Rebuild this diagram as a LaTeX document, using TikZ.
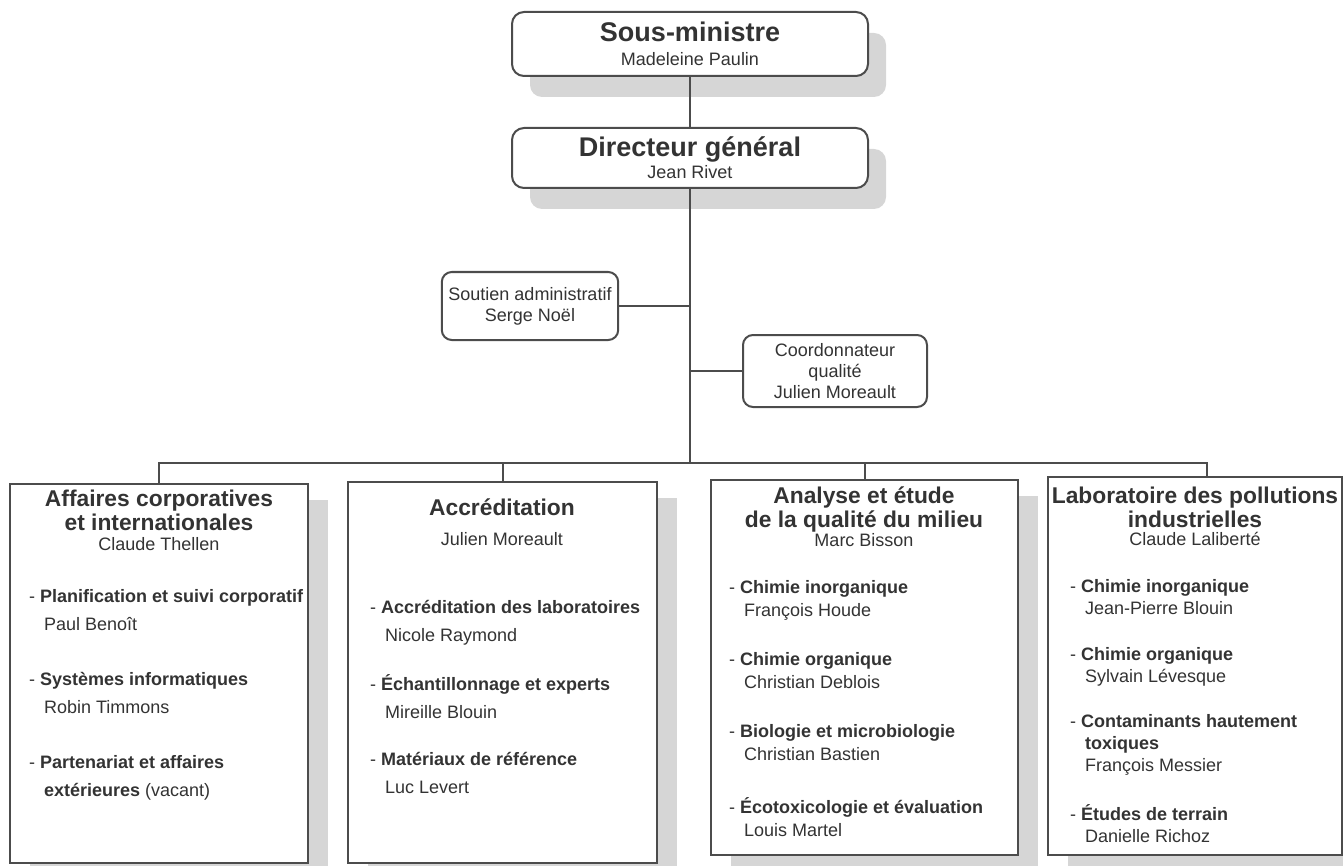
\documentclass[tikz,border=0pt]{standalone}
\usepackage{fontspec}
\setmainfont{Liberation Sans}
\usetikzlibrary{shadows}

\tikzset{
  boss/.style={draw=black!70, line width=1pt, rounded corners=6pt, fill=white,
    minimum width=178pt, align=center, text=black!80,
    drop shadow={shadow xshift=9pt, shadow yshift=-10.5pt, fill=black!16, opacity=1}},
  staff/.style={draw=black!70, line width=1pt, rounded corners=5pt, fill=white,
    align=center, text=black!80, font=\fontsize{9}{10.5}\selectfont},
  division/.style={draw=black!70, line width=1pt, fill=white,
    drop shadow={shadow xshift=10pt, shadow yshift=-8pt, fill=black!16, opacity=1}},
  divtitle/.style={anchor=base, align=center, text=black!80, font=\bfseries\fontsize{11.4}{11.75}\selectfont},
  divhead/.style={anchor=base, text=black!80, font=\fontsize{9}{11}\selectfont},
  unitlist/.style={anchor=base west, align=left, text=black!80},
  link/.style={draw=black!70, line width=1pt}
}

\begin{document}
\begin{tikzpicture}[x=0.5pt,y=-0.5pt]
  \useasboundingbox (0,0) rectangle (1343,866);

  % direction
  \node[boss, minimum height=32pt, font=\fontsize{9}{12}\selectfont] (sm) at (690,44)
    {{\bfseries\fontsize{13.5}{14}\selectfont Sous-ministre}\\Madeleine Paulin};
  \node[boss, minimum height=30pt, font=\fontsize{9}{11}\selectfont] (dg) at (690,158)
    {{\bfseries\fontsize{13.5}{14}\selectfont Directeur général}\\Jean Rivet};

  \node[staff, minimum width=87pt, minimum height=34pt] (soutien) at (530,306)
    {Soutien administratif\\Serge Noël};
  \node[staff, minimum width=92pt, minimum height=36pt] (coord) at (835,371)
    {Coordonnateur\\qualité\\Julien Moreault};

  % divisions (multi-line nodes sit on their last baseline)
  \node[division, minimum width=149pt, minimum height=189.5pt] (aff) at (159,673.5) {};
  \node[division, minimum width=154.5pt, minimum height=190.5pt] (acc) at (502.5,672.5) {};
  \node[division, minimum width=153.5pt, minimum height=187.5pt] (ana) at (864.5,667.5) {};
  \node[division, minimum width=147pt, minimum height=189pt] (lab) at (1195,666) {};

  \node[divtitle] (afft) at (159,530) {Affaires corporatives\\et internationales};
  \node[divhead] (affh) at (159,550) {Claude Thellen};
  \node[divtitle] (acct) at (502,515) {Accréditation};
  \node[divhead] (acch) at (502,545) {Julien Moreault};
  \node[divtitle] (anat) at (864,527) {Analyse et étude\\de la qualité du milieu};
  \node[divhead] (anah) at (864,546) {Marc Bisson};
  \node[divtitle] (labt) at (1195,527) {Laboratoire des pollutions\\industrielles};
  \node[divhead] (labh) at (1195,545) {Claude Laliberté};

  \node[unitlist, font=\fontsize{9}{14}\selectfont] (affl) at (22,796)
    {- \textbf{Planification et suivi corporatif}\\\hspace*{7.5pt}Paul Benoît\\[13.5pt]
     - \textbf{Systèmes informatiques}\\\hspace*{7.5pt}Robin Timmons\\[13.5pt]
     - \textbf{Partenariat et affaires}\\\hspace*{7.5pt}\textbf{extérieures} (vacant)};
  \node[unitlist, font=\fontsize{9}{14}\selectfont] (accl) at (363,793)
    {- \textbf{Accréditation des laboratoires}\\\hspace*{7.5pt}Nicole Raymond\\[10.5pt]
     - \textbf{Échantillonnage et experts}\\\hspace*{7.5pt}Mireille Blouin\\[9.5pt]
     - \textbf{Matériaux de référence}\\\hspace*{7.5pt}Luc Levert};
  \node[unitlist, font=\fontsize{9}{11.5}\selectfont] (anal) at (722,836)
    {- \textbf{Chimie inorganique}\\\hspace*{7.5pt}François Houde\\[13pt]
     - \textbf{Chimie organique}\\\hspace*{7.5pt}Christian Deblois\\[13pt]
     - \textbf{Biologie et microbiologie}\\\hspace*{7.5pt}Christian Bastien\\[15pt]
     - \textbf{Écotoxicologie et évaluation}\\\hspace*{7.5pt}Louis Martel};
  \node[unitlist, font=\fontsize{9}{11}\selectfont] (labl) at (1063,842)
    {- \textbf{Chimie inorganique}\\\hspace*{7.5pt}Jean-Pierre Blouin\\[12pt]
     - \textbf{Chimie organique}\\\hspace*{7.5pt}Sylvain Lévesque\\[11.5pt]
     - \textbf{Contaminants hautement}\\\hspace*{7.5pt}\textbf{toxiques}\\\hspace*{7.5pt}François Messier\\[13.5pt]
     - \textbf{Études de terrain}\\\hspace*{7.5pt}Danielle Richoz};

  % links
  \coordinate (bus) at (690,463);
  \draw[link] (sm) -- (dg);
  \draw[link] (dg.south) -- (bus);
  \draw[link] (soutien.east) -- (soutien.east -| dg.south);
  \draw[link] (coord.west) -- (coord.west -| dg.south);
  \draw[link] (aff.north) |- ([xshift=6pt]lab.north |- bus) -- ([xshift=6pt]lab.north);
  \draw[link] (acc.north) -- (acc.north |- bus);
  \draw[link] (ana.north) -- (ana.north |- bus);
\end{tikzpicture}
\end{document}
